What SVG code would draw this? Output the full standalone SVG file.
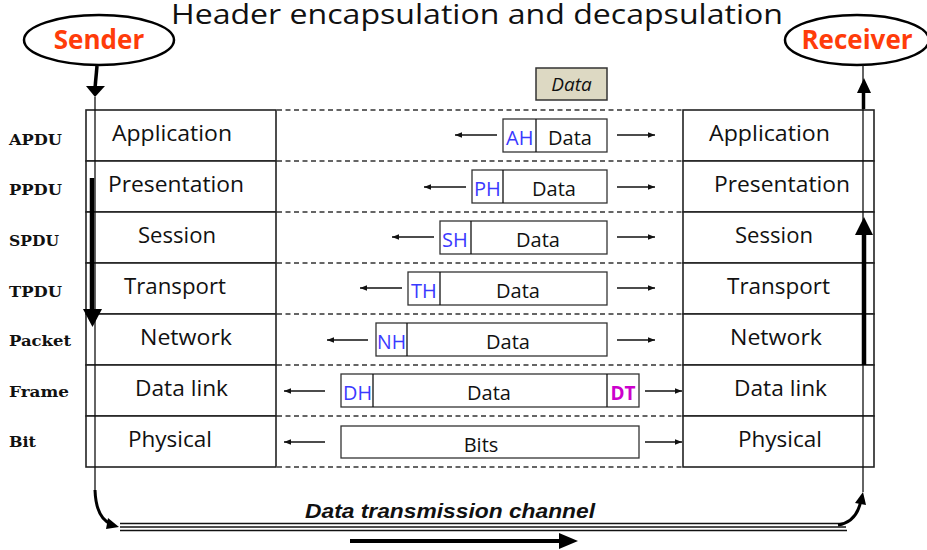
<svg xmlns="http://www.w3.org/2000/svg" width="927" height="550" viewBox="0 0 927 550">
<style>
.layer{fill:#fff;stroke:#222;stroke-width:1.6}
.lt{font-family:"Open Sans","Noto Sans",sans-serif;font-size:21px;fill:#111}
.pdu{font-family:"DejaVu Serif","Liberation Serif",serif;font-weight:bold;font-size:15px;fill:#111}
.box{fill:#fff;stroke:#333;stroke-width:1.3}
.bt{font-family:"Open Sans","Noto Sans",sans-serif;font-size:20px;fill:#111;text-anchor:middle}
.hd{font-family:"Open Sans","Noto Sans",sans-serif;font-size:20px;fill:#3a3aff}
.dash{stroke:#333;stroke-width:1.3;stroke-dasharray:5 3.5;fill:none}
.arr{stroke:#111;stroke-width:1.3;fill:none;marker-end:url(#sa)}
.thin{stroke:#111;stroke-width:1.3;fill:none}
.ell{fill:#fff;stroke:#000;stroke-width:2.5}
.who{font-family:"Open Sans","Noto Sans",sans-serif;font-weight:bold;font-size:26px;fill:#ff3c0a;text-anchor:middle}
</style>
<defs>
<marker id="sa" viewBox="0 0 10 8" refX="10" refY="4" markerWidth="7" markerHeight="5.6" markerUnits="userSpaceOnUse" orient="auto"><path d="M0,0 L10,4 L0,8 Z" fill="#111"/></marker>
</defs>

<text x="171" y="24" font-family="Open Sans,Noto Sans,sans-serif" font-size="28" fill="#111" textLength="612" lengthAdjust="spacingAndGlyphs">Header encapsulation and decapsulation</text>

<g id="sender">
<ellipse class="ell" cx="99" cy="40" rx="75" ry="25"/>
<text class="who" x="99" y="49">Sender</text>
</g>
<g id="receiver">
<ellipse class="ell" cx="857" cy="40" rx="72" ry="25"/>
<text class="who" x="857" y="49">Receiver</text>
</g>

<g id="data-top">
<rect x="536" y="68" width="71" height="32" fill="#ddd9c3" stroke="#333" stroke-width="1.5"/>
<text x="571.5" y="91" font-family="Open Sans,Noto Sans,sans-serif" font-size="19" font-style="italic" fill="#111" text-anchor="middle">Data</text>
</g>

<g id="pdu-labels">
<text class="pdu" x="9" y="145" textLength="53" lengthAdjust="spacingAndGlyphs">APDU</text>
<text class="pdu" x="9" y="195" textLength="53" lengthAdjust="spacingAndGlyphs">PPDU</text>
<text class="pdu" x="9" y="246" textLength="50" lengthAdjust="spacingAndGlyphs">SPDU</text>
<text class="pdu" x="9" y="297" textLength="53" lengthAdjust="spacingAndGlyphs">TPDU</text>
<text class="pdu" x="9" y="346" textLength="62" lengthAdjust="spacingAndGlyphs">Packet</text>
<text class="pdu" x="9" y="397" textLength="60" lengthAdjust="spacingAndGlyphs">Frame</text>
<text class="pdu" x="9" y="447" textLength="27" lengthAdjust="spacingAndGlyphs">Bit</text>
</g>

<g id="sender-stack">
<rect class="layer" x="86" y="110" width="190" height="51"/>
<rect class="layer" x="86" y="161" width="190" height="51"/>
<rect class="layer" x="86" y="212" width="190" height="51"/>
<rect class="layer" x="86" y="263" width="190" height="51"/>
<rect class="layer" x="86" y="314" width="190" height="51"/>
<rect class="layer" x="86" y="365" width="190" height="51"/>
<rect class="layer" x="86" y="416" width="190" height="51"/>
<text class="lt" x="112" y="141" textLength="120" lengthAdjust="spacingAndGlyphs">Application</text>
<text class="lt" x="108" y="192" textLength="136" lengthAdjust="spacingAndGlyphs">Presentation</text>
<text class="lt" x="138" y="243" textLength="78" lengthAdjust="spacingAndGlyphs">Session</text>
<text class="lt" x="124" y="294" textLength="102" lengthAdjust="spacingAndGlyphs">Transport</text>
<text class="lt" x="140" y="345" textLength="92" lengthAdjust="spacingAndGlyphs">Network</text>
<text class="lt" x="135" y="396" textLength="93" lengthAdjust="spacingAndGlyphs">Data link</text>
<text class="lt" x="128" y="447" textLength="84" lengthAdjust="spacingAndGlyphs">Physical</text>
</g>

<g id="receiver-stack">
<rect class="layer" x="683" y="110" width="191" height="51"/>
<rect class="layer" x="683" y="161" width="191" height="51"/>
<rect class="layer" x="683" y="212" width="191" height="51"/>
<rect class="layer" x="683" y="263" width="191" height="51"/>
<rect class="layer" x="683" y="314" width="191" height="51"/>
<rect class="layer" x="683" y="365" width="191" height="51"/>
<rect class="layer" x="683" y="416" width="191" height="51"/>
<text class="lt" x="709" y="141" textLength="121" lengthAdjust="spacingAndGlyphs">Application</text>
<text class="lt" x="714" y="192" textLength="136" lengthAdjust="spacingAndGlyphs">Presentation</text>
<text class="lt" x="735" y="243" textLength="78" lengthAdjust="spacingAndGlyphs">Session</text>
<text class="lt" x="727" y="294" textLength="103" lengthAdjust="spacingAndGlyphs">Transport</text>
<text class="lt" x="730" y="345" textLength="92" lengthAdjust="spacingAndGlyphs">Network</text>
<text class="lt" x="734" y="396" textLength="93" lengthAdjust="spacingAndGlyphs">Data link</text>
<text class="lt" x="738" y="447" textLength="84" lengthAdjust="spacingAndGlyphs">Physical</text>
</g>

<g id="dashed-lines">
<line class="dash" x1="277" y1="110" x2="683" y2="110"/>
<line class="dash" x1="277" y1="161" x2="683" y2="161"/>
<line class="dash" x1="277" y1="212" x2="683" y2="212"/>
<line class="dash" x1="277" y1="263" x2="683" y2="263"/>
<line class="dash" x1="277" y1="314" x2="683" y2="314"/>
<line class="dash" x1="277" y1="365" x2="683" y2="365"/>
<line class="dash" x1="277" y1="416" x2="683" y2="416"/>
<line class="dash" x1="277" y1="467" x2="683" y2="467"/>
</g>

<g id="apdu">
<rect class="box" x="503" y="119" width="104" height="33"/>
<line class="thin" x1="536" y1="119" x2="536" y2="152"/>
<text class="hd" x="506" y="145">AH</text>
<text class="bt" x="570" y="145">Data</text>
</g>
<g id="ppdu">
<rect class="box" x="472" y="170" width="135" height="33"/>
<line class="thin" x1="503" y1="170" x2="503" y2="203"/>
<text class="hd" x="474" y="196">PH</text>
<text class="bt" x="554" y="196">Data</text>
</g>
<g id="spdu">
<rect class="box" x="440" y="221" width="167" height="33"/>
<line class="thin" x1="471" y1="221" x2="471" y2="254"/>
<text class="hd" x="442" y="247">SH</text>
<text class="bt" x="538" y="247">Data</text>
</g>
<g id="tpdu">
<rect class="box" x="408" y="272" width="199" height="33"/>
<line class="thin" x1="440" y1="272" x2="440" y2="305"/>
<text class="hd" x="411" y="298">TH</text>
<text class="bt" x="518" y="298">Data</text>
</g>
<g id="packet">
<rect class="box" x="376" y="323" width="231" height="33"/>
<line class="thin" x1="407" y1="323" x2="407" y2="356"/>
<text class="hd" x="377" y="349" textLength="29" lengthAdjust="spacingAndGlyphs">NH</text>
<text class="bt" x="508" y="349">Data</text>
</g>
<g id="frame">
<rect class="box" x="341" y="374" width="298" height="33"/>
<line class="thin" x1="373" y1="374" x2="373" y2="407"/>
<line class="thin" x1="607" y1="374" x2="607" y2="407"/>
<text class="hd" x="343" y="400" textLength="29" lengthAdjust="spacingAndGlyphs">DH</text>
<text class="bt" x="489" y="400">Data</text>
<text x="623" y="400" font-family="Open Sans,Noto Sans,sans-serif" font-weight="bold" font-size="19" fill="#cc00cc" text-anchor="middle">DT</text>
</g>
<g id="bits">
<rect class="box" x="341" y="426" width="298" height="32"/>
<text class="bt" x="481" y="452">Bits</text>
</g>

<g id="connectors">
<line class="arr" x1="497" y1="135" x2="455" y2="135"/>
<line class="arr" x1="466" y1="187" x2="424" y2="187"/>
<line class="arr" x1="434" y1="237" x2="392" y2="237"/>
<line class="arr" x1="402" y1="288" x2="360" y2="288"/>
<line class="arr" x1="368" y1="340" x2="327" y2="340"/>
<line class="arr" x1="325" y1="391" x2="284" y2="391"/>
<line class="arr" x1="325" y1="442" x2="284" y2="442"/>
<line class="arr" x1="617" y1="135" x2="655" y2="135"/>
<line class="arr" x1="617" y1="187" x2="655" y2="187"/>
<line class="arr" x1="617" y1="237" x2="655" y2="237"/>
<line class="arr" x1="617" y1="288" x2="655" y2="288"/>
<line class="arr" x1="617" y1="340" x2="655" y2="340"/>
<line class="arr" x1="645" y1="391" x2="682" y2="391"/>
<line class="arr" x1="645" y1="442" x2="682" y2="442"/>

<line x1="97" y1="66" x2="95" y2="88" stroke="#000" stroke-width="3.5"/>
<path d="M86,86 L105,86 L95,97 Z" fill="#000"/>
<line class="thin" x1="95" y1="97" x2="95" y2="492"/>
<line x1="92" y1="178" x2="92" y2="312" stroke="#000" stroke-width="4.5"/>
<path d="M83,309 L102,309 L92.5,327 Z" fill="#000"/>
<path d="M95,490 Q96,518 111,524" stroke="#000" stroke-width="3" fill="none"/>
<path d="M108,518 L119,527 L106,529 Z" fill="#000"/>

<line x1="120" y1="523.5" x2="843" y2="523.5" stroke="#111" stroke-width="1.4"/>
<line x1="120" y1="527" x2="846" y2="527" stroke="#111" stroke-width="1.4"/>
<line x1="120" y1="530.5" x2="847" y2="530.5" stroke="#111" stroke-width="1.4"/>
<path d="M838,525 Q857,522 861,500" stroke="#000" stroke-width="3" fill="none"/>
<path d="M855,503 L863,492 L866,505 Z" fill="#000"/>

<line class="thin" x1="863" y1="65" x2="863" y2="492"/>
<line x1="864" y1="365" x2="864" y2="233" stroke="#000" stroke-width="4.5"/>
<path d="M855,235 L873,235 L864,217 Z" fill="#000"/>
<line x1="863.5" y1="109" x2="863.5" y2="91" stroke="#000" stroke-width="3.5"/>
<path d="M857,93 L871,93 L864,78 Z" fill="#000"/>

<line x1="350" y1="541" x2="562" y2="541" stroke="#000" stroke-width="4"/>
<path d="M559,533 L578,541 L559,549 Z" fill="#000"/>
</g>

<text x="305" y="518" font-family="Liberation Sans,Arial,sans-serif" font-weight="bold" font-style="italic" font-size="20" fill="#111" textLength="290" lengthAdjust="spacingAndGlyphs">Data transmission channel</text>
</svg>
